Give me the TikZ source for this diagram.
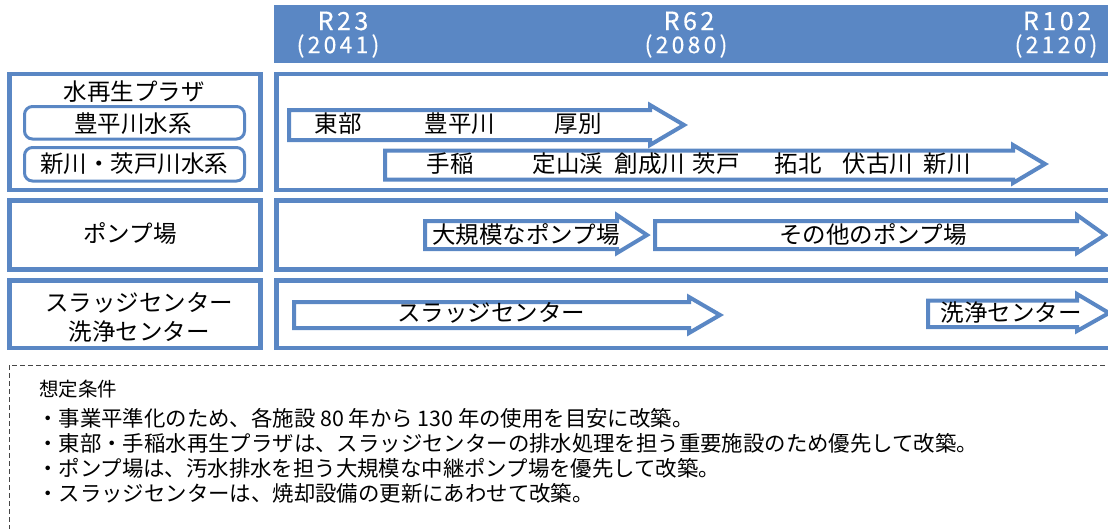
\documentclass[tikz,border=0pt]{standalone}
\usepackage{fontspec}
\setmainfont{Noto Sans CJK JP}
\newfontfamily\hdrfont[LetterSpace=14,FakeBold=0.4]{Noto Sans CJK JP}
\definecolor{mainblue}{RGB}{90,135,196}
\definecolor{dashgray}{RGB}{70,70,70}
\begin{document}
\begin{tikzpicture}[x=1pt,y=-1pt,
  every node/.style={inner sep=0pt, text=black},
  frame/.style={draw=mainblue, line width=4.5pt},
  subbox/.style={draw=mainblue, line width=3pt, rounded corners=8pt},
  barrow/.style={draw=mainblue, line width=4pt, fill=white, line join=miter},
  lbl/.style={font=\fontsize{23.5}{26}\selectfont},
  hdr/.style={font=\hdrfont\fontsize{25}{28}\selectfont, text=white},
  hdryr/.style={font=\hdrfont\fontsize{23}{25}\selectfont, text=white},
  note/.style={font=\fontsize{21.4}{24}\selectfont, anchor=west},
  notehead/.style={font=\fontsize{19.5}{22}\selectfont, anchor=west},
]
\useasboundingbox (0,0) rectangle (1108,528);
\clip (0,0) rectangle (1108,528);

% header bar
\fill[mainblue] (274,5) rectangle (1120,63);
\node[hdr]   (r23)  at (343,21) {R23};
\node[hdryr] (y23)  at (338,46) {(2041)};
\node[hdr]   (r62)  at (689,21) {R62};
\node[hdryr] (y62)  at (686,46) {(2080)};
\node[hdr]   (r102) at (1057,21) {R102};
\node[hdryr] (y102) at (1056,46) {(2120)};

% frames
\draw[frame] (9.5,74) rectangle (260.5,190);
\draw[frame] (276.5,74) rectangle (1120,190);
\draw[frame] (9.5,200.5) rectangle (260.5,269.5);
\draw[frame] (276.5,200.5) rectangle (1120,269.5);
\draw[frame] (9.5,280.5) rectangle (260.5,348);
\draw[frame] (276.5,280.5) rectangle (1120,348);

% left labels
\node[lbl] (plaza) at (134,92) {水再生プラザ};
\draw[subbox] (24.5,106.5) rectangle (244.5,139);
\node[lbl] (toyo) at (133,124) {豊平川水系};
\draw[subbox] (24.5,147.5) rectangle (244.5,181);
\node[lbl] (shin) at (134,164) {新川・茨戸川水系};
\node[lbl] (pump) at (130,234) {ポンプ場};
\node[lbl] (sludge) at (139,303) {スラッジセンター};
\node[lbl] (wash) at (139,332) {洗浄センター};

% arrows row 1
\draw[barrow] (289,110) -- (650,110) -- (650,105) -- (684,125) -- (650,145) -- (650,140) -- (289,140) -- cycle;
\node[lbl] (a1) at (338,124) {東部};
\node[lbl] (a2) at (460,124) {豊平川};
\node[lbl] (a3) at (578,124) {厚別};

\draw[barrow] (385,150.5) -- (1013,150.5) -- (1013,145) -- (1045,164) -- (1013,183) -- (1013,179.5) -- (385,179.5) -- cycle;
\node[lbl] (b1) at (450,164) {手稲};
\node[lbl] (b2) at (568,164) {定山渓};
\node[lbl] (b3) at (650,164) {創成川};
\node[lbl] (b4) at (716,164) {茨戸};
\node[lbl] (b5) at (798,164) {拓北};
\node[lbl] (b6) at (878,164) {伏古川};
\node[lbl] (b7) at (947,164) {新川};

% pumps
\draw[barrow] (425,221) -- (617,221) -- (617,215) -- (647,235) -- (617,253) -- (617,249) -- (425,249) -- cycle;
\node[lbl] (c1) at (526,235) {大規模なポンプ場};
\draw[barrow] (655,221) -- (1077,221) -- (1077,215) -- (1105,235) -- (1077,253) -- (1077,249) -- (655,249) -- cycle;
\node[lbl] (c2) at (873,235) {その他のポンプ場};

% sludge
\draw[barrow] (294,302) -- (689,302) -- (689,297) -- (720,315) -- (689,333) -- (689,328) -- (294,328) -- cycle;
\node[lbl] (d1) at (491,313) {スラッジセンター};
\draw[barrow] (928,300.5) -- (1077,300.5) -- (1077,294) -- (1109,313) -- (1077,331) -- (1077,327) -- (928,327) -- cycle;
\node[lbl] (d2) at (1011,313) {洗浄センター};

% conditions
\draw[dashgray, line width=1pt, dash pattern=on 5pt off 3pt] (9.5,365) rectangle (1130,560);
\node[notehead] (nh) at (39,389) {想定条件};
\node[note] (n1) at (37,418) {・事業平準化のため、各施設 80 年から 130 年の使用を目安に改築。};
\node[note] (n2) at (37,443) {・東部・手稲水再生プラザは、スラッジセンターの排水処理を担う重要施設のため優先して改築。};
\node[note] (n3) at (37,468) {・ポンプ場は、汚水排水を担う大規模な中継ポンプ場を優先して改築。};
\node[note] (n4) at (37,493) {・スラッジセンターは、焼却設備の更新にあわせて改築。};
\end{tikzpicture}
\end{document}
